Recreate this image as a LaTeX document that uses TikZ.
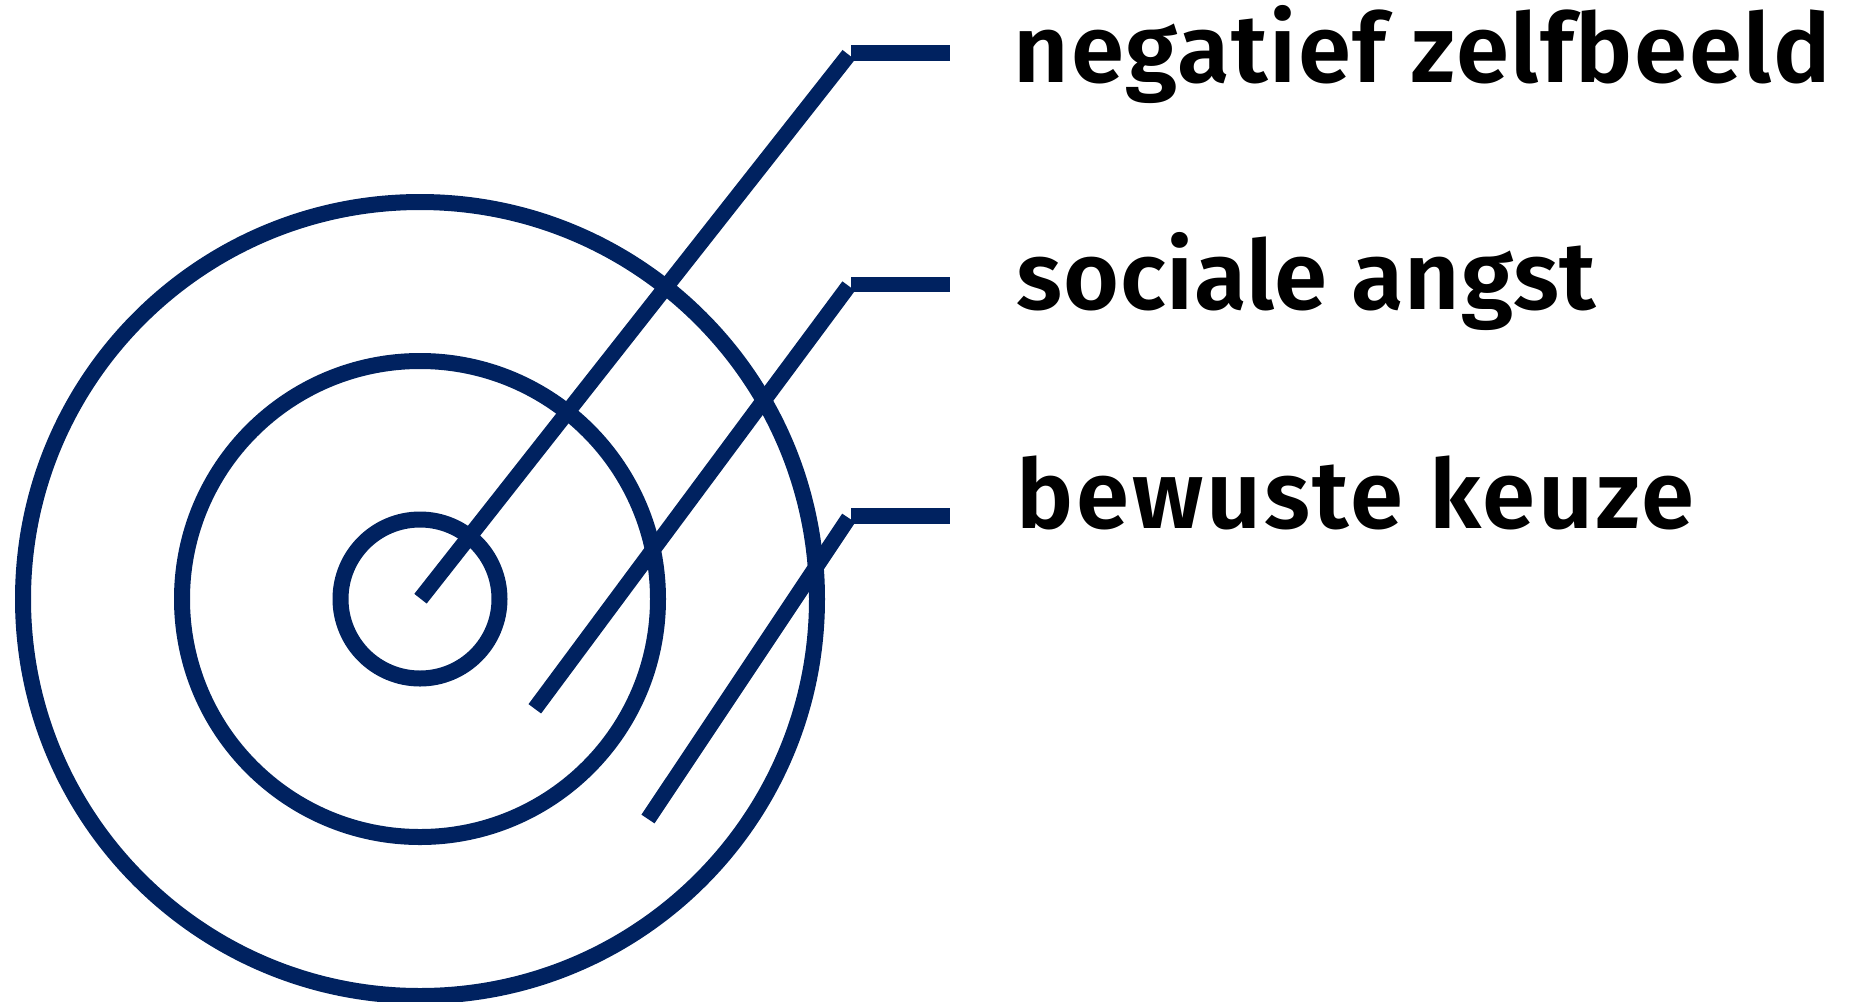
\documentclass[tikz,border=0pt]{standalone}
\usepackage{fontspec}
\setmainfont{Fira Sans}[BoldFont={Fira Sans SemiBold},Ligatures=NoCommon]
\definecolor{navy}{RGB}{0,34,96}
\begin{document}
\begin{tikzpicture}[x=0.5pt,y=-0.5pt,
  ring/.style={draw=navy,line width=8pt},
  leader/.style={draw=navy,line width=7.85pt,line cap=butt},
  lbl/.style={anchor=base west,inner sep=0pt,text=black,font=\fontsize{48}{58}\selectfont\bfseries}]
\useasboundingbox (0,0) rectangle (1854,1002);
\coordinate (c) at (420,599);
\draw[ring] (c) circle[radius=39.75pt];
\draw[ring] (c) circle[radius=119pt];
\draw[ring] (c) circle[radius=198.5pt];
% leader lines
\coordinate (s1) at (420.5,598.7);
\coordinate (k1) at (848.7,54.8);
\coordinate (s2) at (534.8,708.8);
\coordinate (k2) at (848.7,286);
\coordinate (s3) at (648,819);
\coordinate (k3) at (848.7,518);
\coordinate (b1a) at (851,52.8);
\coordinate (b1b) at (950,52.8);
\coordinate (b2a) at (851,284.5);
\coordinate (b2b) at (950,284.5);
\coordinate (b3a) at (851,516);
\coordinate (b3b) at (950,516);
\draw[leader] (s1) -- (k1);
\draw[leader] (b1a) -- (b1b);
\draw[leader] (s2) -- (k2);
\draw[leader] (b2a) -- (b2b);
\draw[leader] (s3) -- (k3);
\draw[leader] (b3a) -- (b3b);
% labels
\node[lbl] (t1) at (1013.5,82.8) {\addfontfeature{LetterSpace=1.7}negatief zelfbeeld};
\node[lbl] (t2) at (1016.5,309.8) {\addfontfeature{LetterSpace=0.6}sociale angst};
\node[lbl] (t3) at (1016.5,528.5) {\addfontfeature{LetterSpace=2.8}bewuste keuze};
\end{tikzpicture}
\end{document}
